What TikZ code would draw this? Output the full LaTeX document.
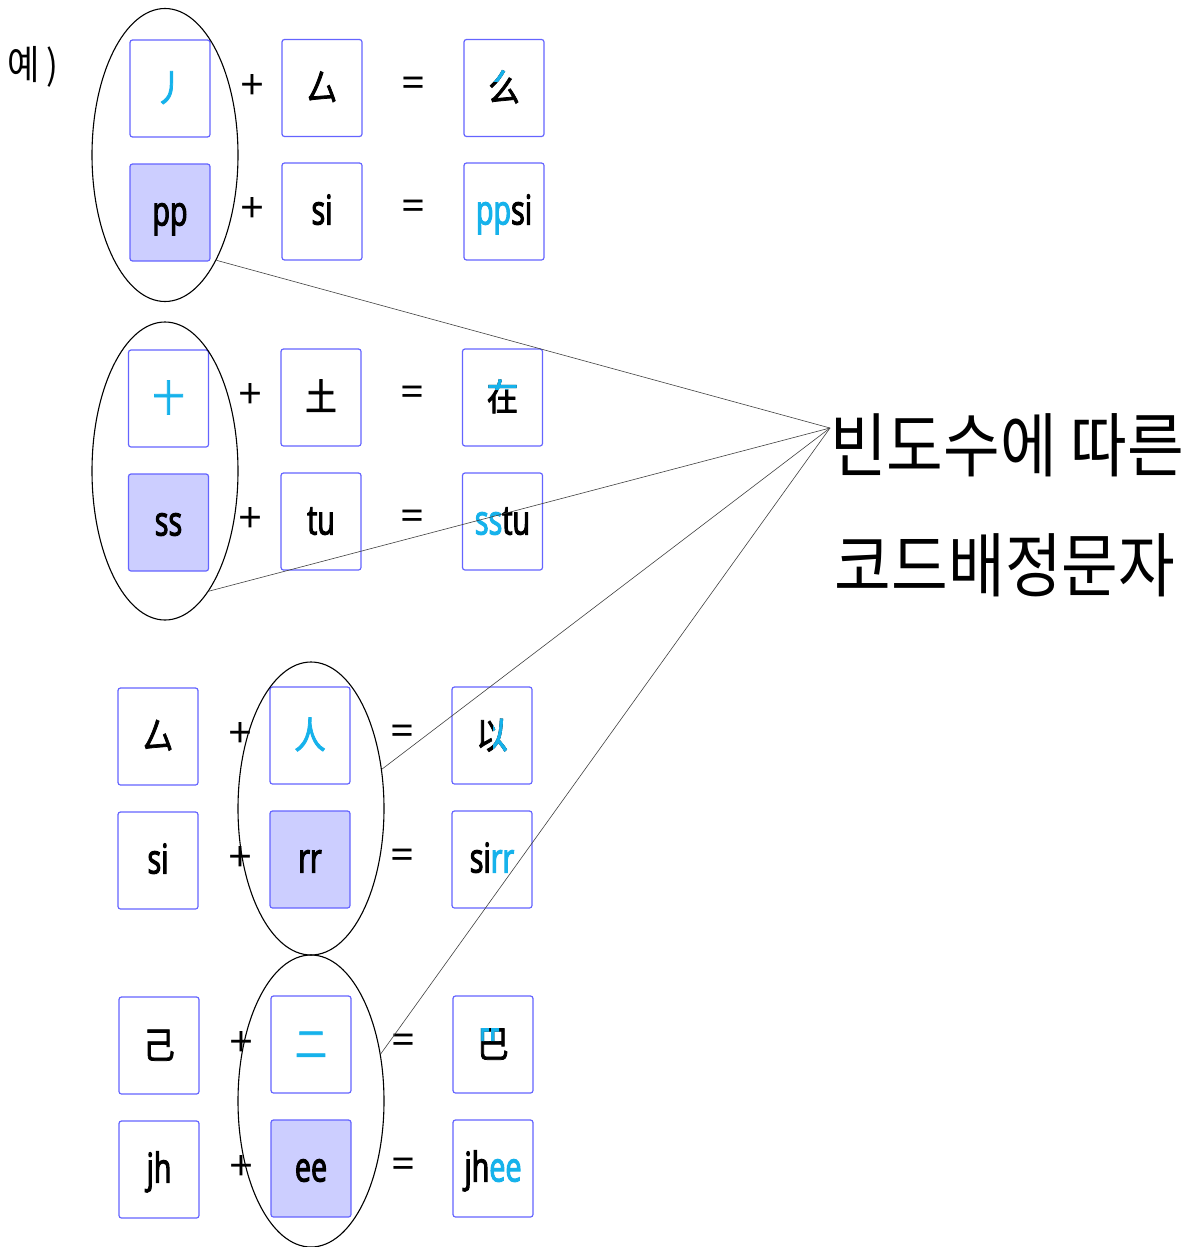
\documentclass[tikz,border=0pt]{standalone}
\usepackage{fontspec}
\usetikzlibrary{shapes.geometric}
\newfontfamily\lat{Open Sans}[FakeStretch=0.7,FakeBold=2.5]
\newfontfamily\symf{Open Sans}
\newfontfamily\han{Noto Sans CJK SC}[FakeStretch=0.85,FakeBold=2]
\newfontfamily\kor{Noto Sans CJK KR}[FakeStretch=0.88]
\definecolor{boxc}{RGB}{100,100,255}
\definecolor{hlc}{RGB}{204,206,255}
\definecolor{cy}{RGB}{22,178,235}
\begin{document}
\begin{tikzpicture}[x=1pt,y=-1pt,
  bx/.style={draw=boxc, line width=1.2pt, rounded corners=2.5pt, minimum width=80pt, minimum height=97pt, inner sep=0pt, fill=white},
  hl/.style={bx, fill=hlc},
  lt/.style={inner sep=0pt, text height=32pt, text depth=6pt, font=\lat\fontsize{41}{41}\selectfont},
  ht/.style={inner sep=0pt, text height=32pt, text depth=6pt, font=\han\fontsize{37}{37}\selectfont},
  op/.style={inner sep=0pt, font=\symf\fontsize{42}{42}\selectfont},
  ell/.style={ellipse, draw=black, line width=1.1pt, inner sep=0pt},
  conn/.style={draw=black!75, line width=0.6pt}]
\useasboundingbox (0,0) rectangle (1186,1247);

% ---------- group 1 ----------
\node[bx] (a11) at (170,88.5) {};
\node[bx] (b11) at (322,88) {};
\node[bx] (c11) at (504,88) {};
\node[hl] (a12) at (170,212.5) {};
\node[bx] (b12) at (322,211.5) {};
\node[bx] (c12) at (504,211.5) {};
\node[ht,text=cy] (ta11) at (a11) {丿};
\node[ht] (tb11) at (b11) {厶};
\node[ht] (tc11) at (c11) {么};
\begin{scope}\clip (486,55) rectangle (505,81);
\node[ht,text=cy] at (c11) {么};\end{scope}
\node[lt] (ta12) at (a12) {pp};
\node[lt] (tb12) at (b12) {si};
\node[lt] (tc12) at (c12) {\textcolor{cy}{pp}si};
\node[op] (p11) at (253,87) {+};
\node[op] (q11) at (414,87) {=};
\node[op] (p12) at (253,210) {+};
\node[op] (q12) at (414,210) {=};

% ---------- group 2 ----------
\node[bx] (a21) at (168.5,398.5) {};
\node[bx] (b21) at (321,397.5) {};
\node[bx] (c21) at (502.5,397.5) {};
\node[hl] (a22) at (168.5,522.5) {};
\node[bx] (b22) at (321,521.5) {};
\node[bx] (c22) at (502.5,521.5) {};
\node[ht,text=cy] (ta21) at (a21) {十};
\node[ht] (tb21) at (b21) {土};
\node[ht] (tc21) at (c21) {在};
\begin{scope}\clip (485,365) rectangle (525,389);
\node[ht,text=cy] at (c21) {在};\end{scope}
\node[lt] (ta22) at (a22) {ss};
\node[lt] (tb22) at (b22) {tu};
\node[lt] (tc22) at (c22) {\textcolor{cy}{ss}tu};
\node[op] (p21) at (251,396) {+};
\node[op] (q21) at (413,396) {=};
\node[op] (p22) at (251,520) {+};
\node[op] (q22) at (413,520) {=};

% ---------- group 3 ----------
\node[bx] (a31) at (158,736.5) {};
\node[bx] (b31) at (310,735.5) {};
\node[bx] (c31) at (492,735.5) {};
\node[bx] (a32) at (158,860.5) {};
\node[hl] (b32) at (310,859.5) {};
\node[bx] (c32) at (492,859.5) {};
\node[ht] (ta31) at (a31) {厶};
\node[ht,text=cy] (tb31) at (b31) {人};
\node[ht] (tc31) at (c31) {以};
\begin{scope}\clip (493,700) rectangle (525,770);
\node[ht,text=cy] at (c31) {以};\end{scope}
\node[lt] (ta32) at (a32) {si};
\node[lt] (tb32) at (b32) {rr};
\node[lt] (tc32) at (c32) {si\textcolor{cy}{rr}};
\node[op] (p31) at (241,735) {+};
\node[op] (q31) at (403,735) {=};
\node[op] (p32) at (241,859) {+};
\node[op] (q32) at (403,859) {=};

% ---------- group 4 ----------
\node[bx] (a41) at (159,1045.5) {};
\node[bx] (b41) at (311,1044.5) {};
\node[bx] (c41) at (493,1044.5) {};
\node[bx] (a42) at (159,1169.5) {};
\node[hl] (b42) at (311,1168.5) {};
\node[bx] (c42) at (493,1168.5) {};
\node[ht] (ta41) at (a41) {己};
\node[ht,text=cy] (tb41) at (b41) {二};
\node[ht] (tc41) at (c41) {巴};
\begin{scope}\clip (478,1027) rectangle (489,1041) (491,1027) rectangle (499,1041);
\node[ht,text=cy] at (c41) {巴};\end{scope}
\node[lt] (ta42) at (a42) {jh};
\node[lt] (tb42) at (b42) {ee};
\node[lt] (tc42) at (c42) {jh\textcolor{cy}{ee}};
\node[op] (p41) at (242,1044) {+};
\node[op] (q41) at (404,1044) {=};
\node[op] (p42) at (242,1168) {+};
\node[op] (q42) at (404,1168) {=};

% ---------- ellipses ----------
\node[ell, minimum width=146pt, minimum height=293pt] (e1) at (165,155) {};
\node[ell, minimum width=146pt, minimum height=298pt] (e2) at (165,471) {};
\node[ell, minimum width=146pt, minimum height=293pt] (e3) at (311,808.5) {};
\node[ell, minimum width=146pt, minimum height=292pt] (e4) at (311,1101) {};

% ---------- labels ----------
\node[inner sep=0pt, font=\kor\fontsize{40}{40}\selectfont] (ex) at (33,67) {예\,)};
\coordinate (hub) at (830,428);
\node[inner sep=0pt, font=\kor\fontsize{70}{70}\selectfont] (t1) at (1007,445) {빈도수에 따른};
\node[inner sep=0pt, font=\kor\fontsize{70}{70}\selectfont] (t2) at (1005,565) {코드배정문자};

% ---------- connectors ----------
\draw[conn] (e1.-64) -- (hub);
\draw[conn] (e2.-70) -- (hub);
\draw[conn] (e3.29) -- (hub);
\draw[conn] (e4.34) -- (hub);
\end{tikzpicture}
\end{document}
